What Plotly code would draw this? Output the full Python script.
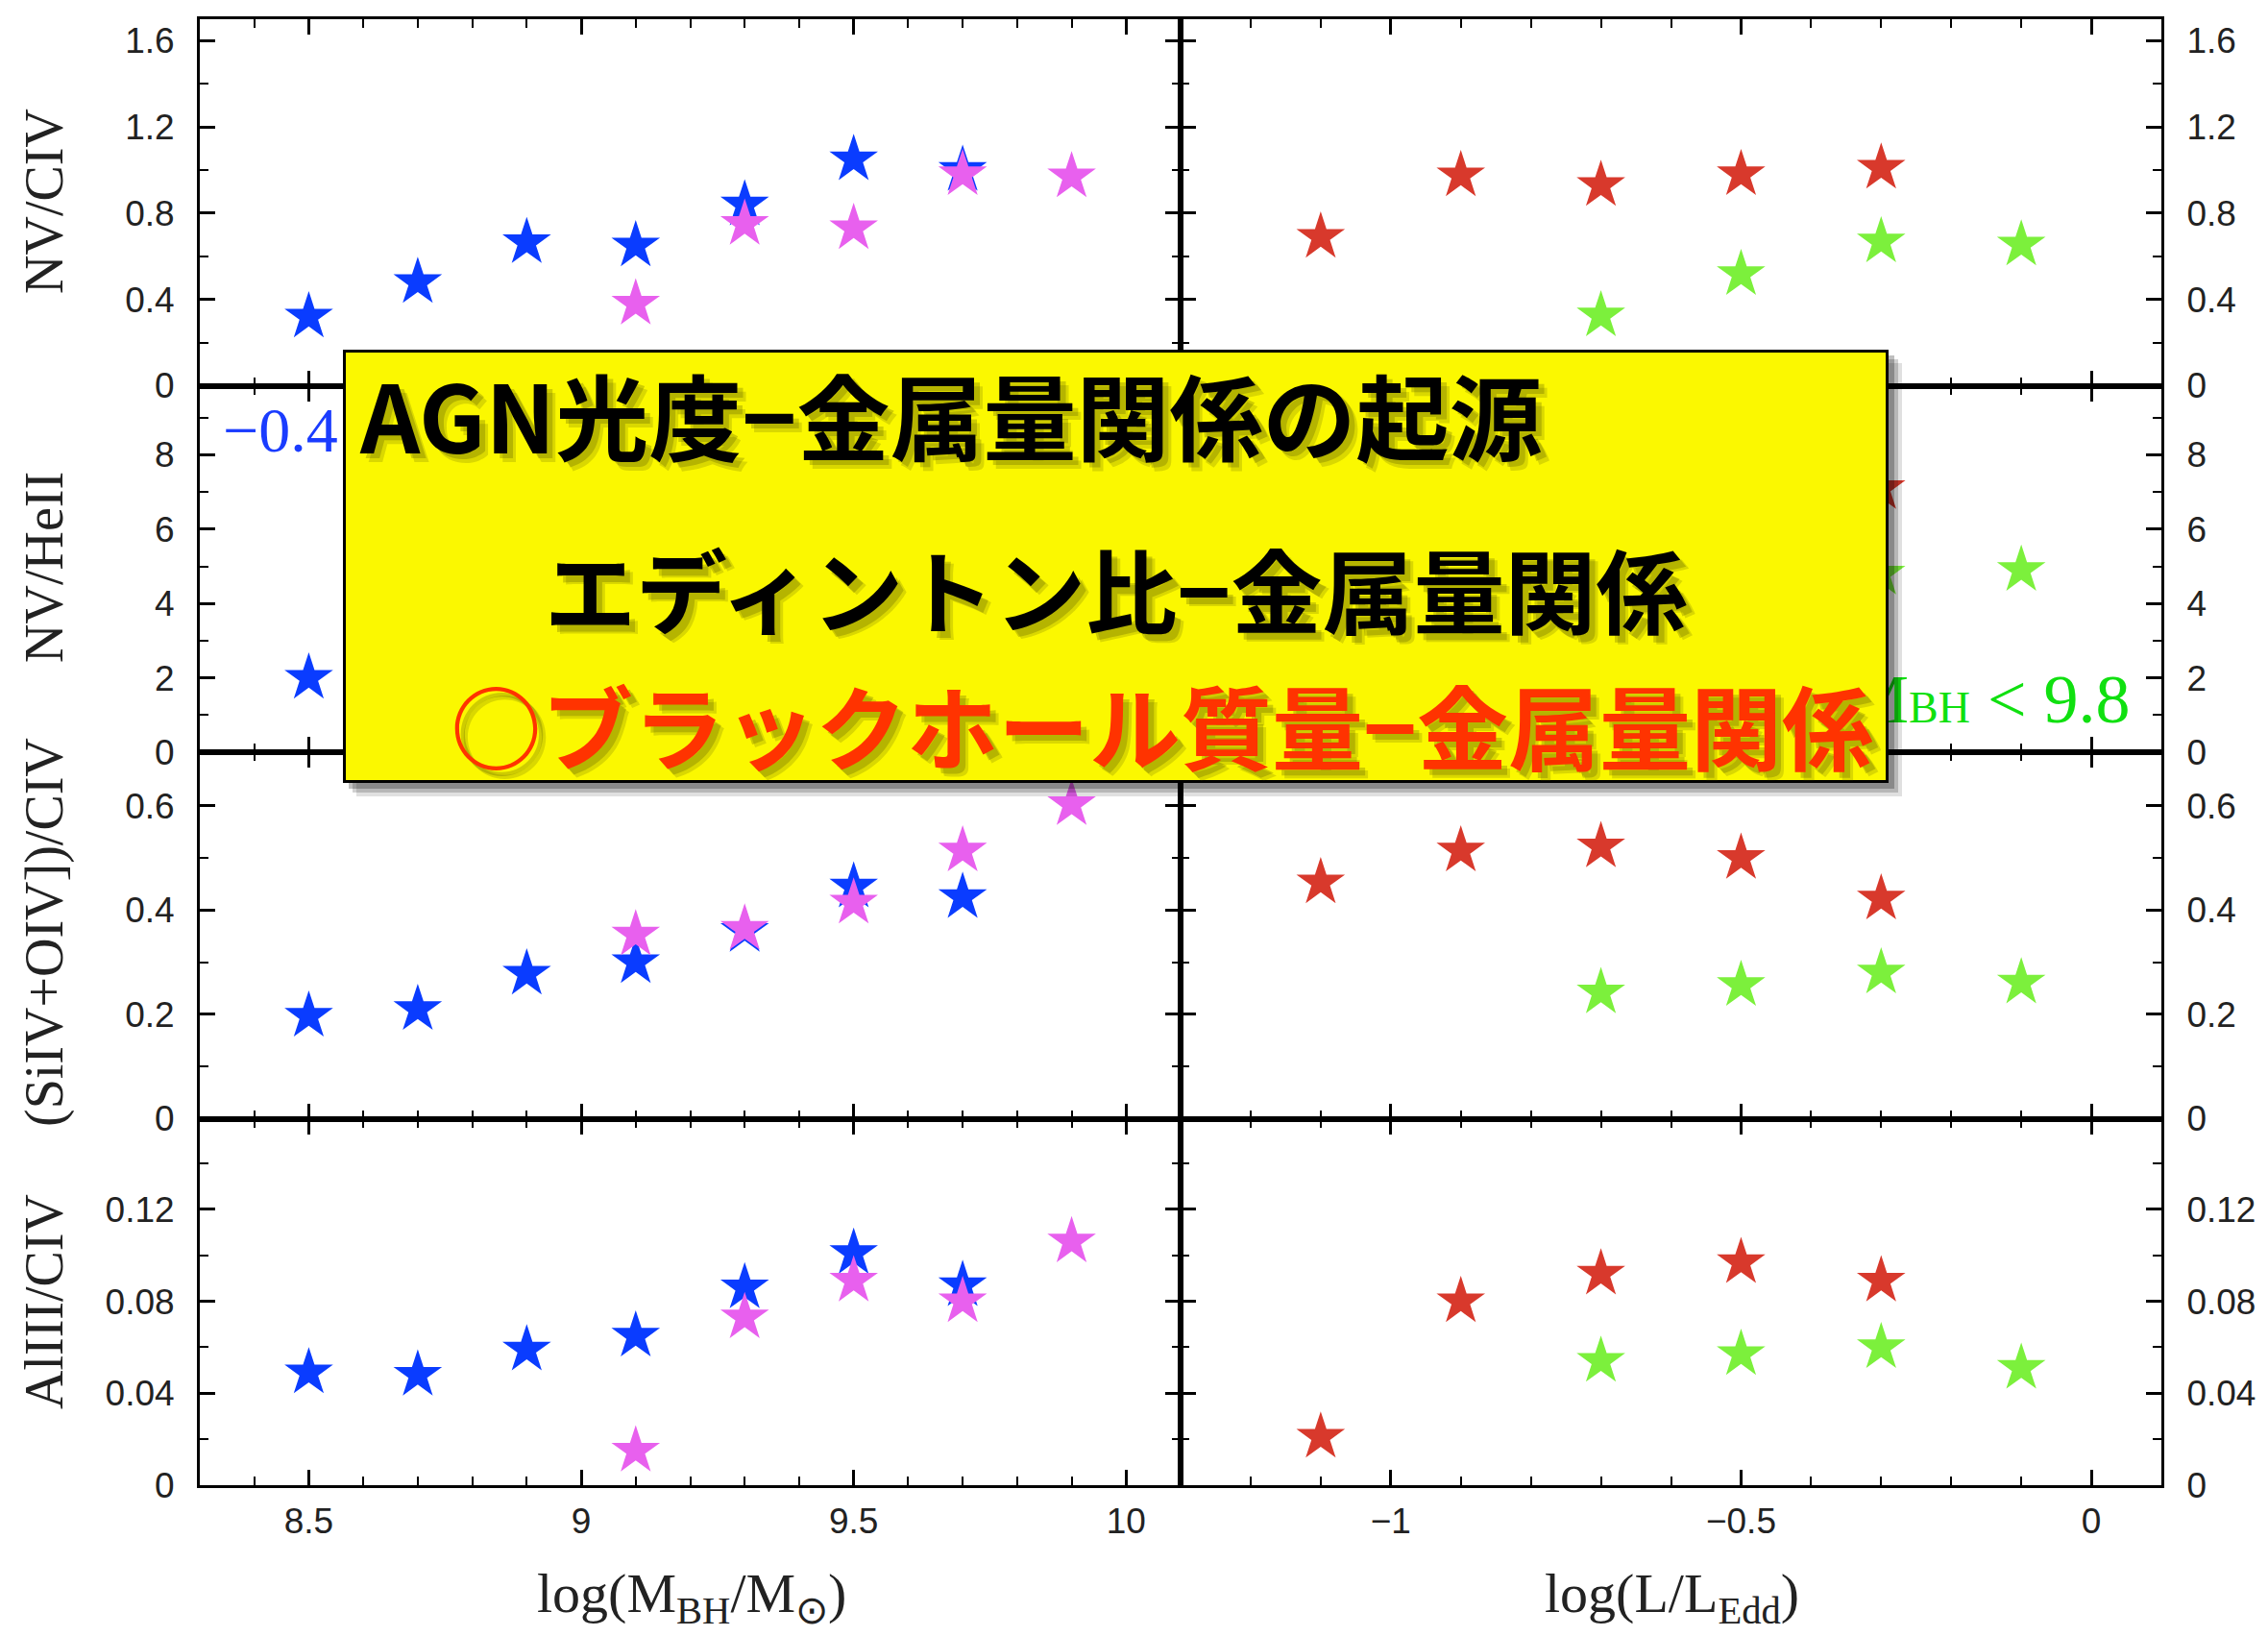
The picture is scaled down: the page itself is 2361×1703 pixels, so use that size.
import plotly.graph_objects as go
from plotly.subplots import make_subplots

# ---------------- data ----------------
mbh_blue_x = [8.5, 8.7, 8.9, 9.1, 9.3, 9.5, 9.7]
mbh_mag_x = [9.1, 9.3, 9.5, 9.7, 9.9]
edd_red_x = [-1.1, -0.9, -0.7, -0.5, -0.3]
edd_green_x = [-0.7, -0.5, -0.3, -0.1]

nv_civ_blue = [0.32, 0.48, 0.665, 0.65, 0.84, 1.05, 1.0]
nv_civ_mag = [0.38, 0.75, 0.73, 0.98, 0.97]
nv_civ_red = [0.69, 0.975, 0.93, 0.98, 1.01]
nv_civ_green = [0.325, 0.517, 0.668, 0.654]

# NV/HeII: only the points not hidden by the yellow box
nv_heii_blue_x = [8.5]
nv_heii_blue = [2.0]
nv_heii_red_x = [-0.3]
nv_heii_red = [7.1]
nv_heii_green_x = [-0.3, -0.1]
nv_heii_green = [4.8, 4.9]

sio_blue = [0.197, 0.21, 0.278, 0.30, 0.36, 0.445, 0.425]
sio_mag = [0.353, 0.364, 0.414, 0.514, 0.603]
sio_red = [0.453, 0.514, 0.522, 0.50, 0.422]
sio_green = [0.242, 0.256, 0.28, 0.261]

al_blue = [0.049, 0.048, 0.059, 0.065, 0.086, 0.101, 0.087]
al_mag = [0.015, 0.073, 0.089, 0.080, 0.106]
al_red = [0.021, 0.080, 0.092, 0.097, 0.089]
al_green = [0.054, 0.057, 0.060, 0.051]

row_titles = ["NV/CIV", "NV/HeII", "(SiIV+OIV])/CIV", "AlIII/CIV"]
y_ranges = [[0, 1.7], [0, 9.86], [0, 0.703], [0, 0.1595]]
y_dticks = [0.4, 2, 0.2, 0.04]
y_minor = [0.2, 1, 0.1, 0.02]

title_lines = ["AGN光度−金属量関係の起源", "エディントン比−金属量関係", "○ブラックホール質量−金属量関係"]

# ---------------- colours ----------------
BLUE = "#0a3cff"
MAG = "#e860ee"
RED = "#d8392c"
GREEN = "#7cf03c"

W, H = 2361, 1703
L, R, T, B = 208, 111, 20, 157
PW, PH = W - L - R, H - T - B


def px(xp):
    return (xp - L) / PW


def py(yp):
    return (H - B - yp) / PH


fig = make_subplots(rows=4, cols=2, horizontal_spacing=0, vertical_spacing=0)

MS = 38


def add(x, y, color, row, col):
    fig.add_trace(go.Scatter(x=x, y=y, mode="markers",
                             marker=dict(symbol="star", size=MS, color=color, line=dict(width=0)),
                             showlegend=False), row=row, col=col)


add(mbh_blue_x, nv_civ_blue, BLUE, 1, 1)
add(mbh_mag_x, nv_civ_mag, MAG, 1, 1)
add(edd_red_x, nv_civ_red, RED, 1, 2)
add(edd_green_x, nv_civ_green, GREEN, 1, 2)

add(nv_heii_blue_x, nv_heii_blue, BLUE, 2, 1)
add(nv_heii_red_x, nv_heii_red, RED, 2, 2)
add(nv_heii_green_x, nv_heii_green, GREEN, 2, 2)

add(mbh_blue_x, sio_blue, BLUE, 3, 1)
add(mbh_mag_x, sio_mag, MAG, 3, 1)
add(edd_red_x, sio_red, RED, 3, 2)
add(edd_green_x, sio_green, GREEN, 3, 2)

add(mbh_blue_x, al_blue, BLUE, 4, 1)
add(mbh_mag_x, al_mag, MAG, 4, 1)
add(edd_red_x, al_red, RED, 4, 2)
add(edd_green_x, al_green, GREEN, 4, 2)

tickfont = dict(family="Liberation Sans, Arial", size=37, color="#222")
common = dict(showline=True, linecolor="black", linewidth=3, mirror="ticks",
              ticks="inside", ticklen=16, tickwidth=2.5, tickcolor="black",
              showgrid=False, zeroline=False, tickfont=tickfont)

for r in range(1, 5):
    for c in (1, 2):
        if c == 1:
            xr, dt, t0 = [8.3, 10.1], 0.5, 8.5
        else:
            xr, dt, t0 = [-1.3, 0.1], 0.5, -1.0
        fig.update_xaxes(range=xr, dtick=dt, tick0=t0,
                         minor=dict(dtick=0.1, ticks="inside", ticklen=9, tickwidth=2, tickcolor="black"),
                         showticklabels=(r == 4), ticklabelstandoff=3,
                         **common, row=r, col=c)
        if c == 2:
            fig.update_xaxes(tickvals=[-1, -0.5, 0], ticktext=["−1", "−0.5", "0"], row=r, col=c)
        fig.update_yaxes(range=y_ranges[r - 1], dtick=y_dticks[r - 1], tick0=0,
                         minor=dict(dtick=y_minor[r - 1], ticks="inside", ticklen=9, tickwidth=2, tickcolor="black"),
                         side="left" if c == 1 else "right",
                         ticklabelstandoff=16,
                         **common, row=r, col=c)

annotations = []
serif = "Liberation Serif, Times New Roman, serif"
# y axis titles
row_centers = [210, 591, 971, 1355]
for t, yc in zip(row_titles, row_centers):
    annotations.append(dict(text=t, x=px(46), y=py(yc), xref="paper", yref="paper",
                            xanchor="center", yanchor="middle", textangle=-90, showarrow=False,
                            font=dict(family=serif, size=56, color="#222")))
# x axis titles
annotations.append(dict(text="log(M<sub>BH</sub>/M<sub>⊙</sub>)", x=px(720), y=py(1662),
                        xref="paper", yref="paper", showarrow=False, xanchor="center", yanchor="middle",
                        font=dict(family=serif, size=58, color="#222")))
annotations.append(dict(text="log(L/L<sub>Edd</sub>)", x=px(1740), y=py(1662),
                        xref="paper", yref="paper", showarrow=False, xanchor="center", yanchor="middle",
                        font=dict(family=serif, size=58, color="#222")))

# partially hidden panel labels
annotations.append(dict(text="−0.4", x=px(230), y=py(447), xref="paper", yref="paper",
                        xanchor="left", yanchor="middle", showarrow=False,
                        font=dict(family=serif, size=66, color="#1a3cff")))
annotations.append(dict(text="M<span style='font-size:46px'>BH</span> < 9.8",
                        x=px(2220), y=py(728), xref="paper", yref="paper",
                        xanchor="right", yanchor="middle", showarrow=False,
                        font=dict(family=serif, size=72, color="#10e010")))

# yellow box with shadow
bx0, bx1, by0, by1 = 357, 1966, 364, 815
bw, bh = bx1 - bx0, by1 - by0
for off, alpha in [(14, 0.12), (10, 0.18), (6, 0.25)]:
    annotations.append(dict(text=" ", x=px((bx0 + bx1) / 2 + off), y=py((by0 + by1) / 2 + off),
                            xref="paper", yref="paper", xanchor="center", yanchor="middle",
                            showarrow=False, width=bw, height=bh, borderpad=0, borderwidth=0,
                            bgcolor=f"rgba(0,0,0,{alpha})"))
annotations.append(dict(text=" ", x=px((bx0 + bx1) / 2), y=py((by0 + by1) / 2),
                        xref="paper", yref="paper", xanchor="center", yanchor="middle",
                        showarrow=False, width=bw - 6, height=bh - 6, borderpad=0, borderwidth=3,
                        bordercolor="black", bgcolor="#fbf800"))

line_pos = [(372, 429), (565, 612), (467, 753)]
line_col = ["black", "black", "#ff3300"]
line_size = [97, 95, 95]
cjk = "Noto Sans CJK JP"
for txt, (lx, ly), col, sz in zip(title_lines, line_pos, line_col, line_size):
    for off, alpha in [(9, 0.18), (6, 0.25)]:
        annotations.append(dict(text=f"<b>{txt}</b>", x=px(lx + off), y=py(ly + off),
                                xref="paper", yref="paper", xanchor="left", yanchor="middle",
                                showarrow=False,
                                font=dict(family=cjk, size=sz, color=f"rgba(70,70,0,{alpha})")))
    annotations.append(dict(text=f"<b>{txt}</b>", x=px(lx), y=py(ly),
                            xref="paper", yref="paper", xanchor="left", yanchor="middle",
                            showarrow=False, font=dict(family=cjk, size=sz, color=col)))

fig.update_layout(width=W, height=H, margin=dict(l=L, r=R, t=T, b=B),
                  paper_bgcolor="white", plot_bgcolor="white",
                  annotations=annotations, showlegend=False)

fig.write_html("out.html")
